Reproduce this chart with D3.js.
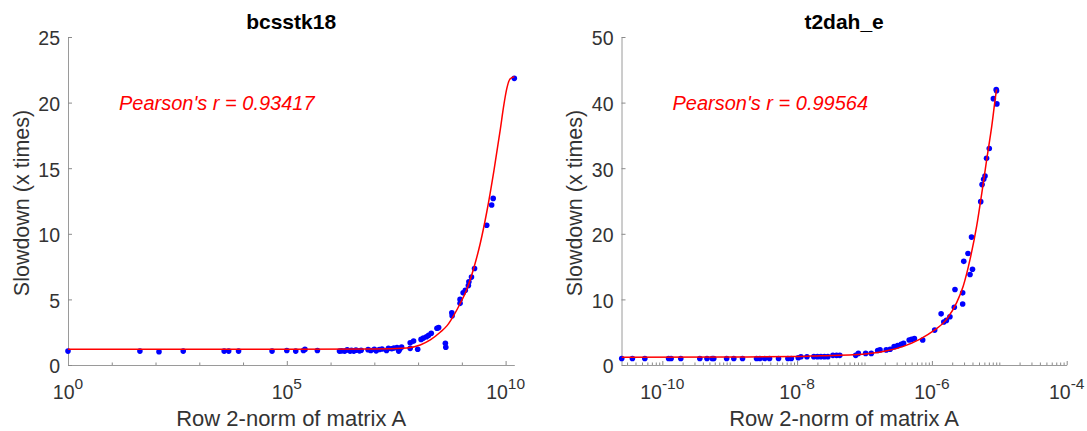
<!DOCTYPE html>
<html>
<head>
<meta charset="utf-8">
<script src="https://cdn.jsdelivr.net/npm/d3@7"></script>
<style>
  html, body { margin: 0; padding: 0; background: #fff; }
  svg { display: block; }
</style>
</head>
<body>
<div id="chart"></div>
<script>
// ---- bcsstk18: row 2-norm vs slowdown ----
const bcsstkNorm = [1.0e0, 4.4e1, 1.2e2, 4.3e2, 3.7e3, 4.7e3, 7.9e3, 4.6e4, 1.0e5, 1.6e5, 2.4e5, 2.6e5, 5.0e5,
  1.6e6, 1.8e6, 2.1e6, 2.4e6, 2.8e6, 3.0e6, 3.4e6, 3.8e6, 4.6e6, 5.0e6, 7.2e6, 8.3e6, 1.0e7, 1.1e7, 1.3e7, 1.5e7,
  1.9e7, 2.1e7, 2.5e7, 2.8e7, 3.3e7, 3.6e7, 3.8e7, 4.2e7, 6.6e7, 6.6e7, 7.9e7, 9.8e7, 1.17e8, 1.32e8, 1.55e8, 1.74e8,
  2.0e8, 2.7e8, 2.95e8, 4.2e8, 4.3e8, 5.9e8, 6.0e8, 9.1e8, 9.1e8, 1.07e9, 1.2e9, 1.41e9, 1.45e9, 1.66e9, 1.95e9,
  3.7e9, 4.8e9, 5.2e9, 1.58e10];
const bcsstkSlowdown = [1.06, 1.06, 1.01, 1.06, 1.06, 1.06, 1.06, 1.06, 1.11, 1.06, 1.11, 1.19, 1.11,
  1.06, 1.08, 1.06, 1.15, 1.06, 1.12, 1.06, 1.13, 1.08, 1.12, 1.17, 1.10, 1.20, 1.08, 1.18, 1.22,
  1.10, 1.27, 1.24, 1.30, 1.33, 1.06, 1.20, 1.36, 1.70, 1.27, 1.82, 1.20, 1.95, 2.05, 2.15, 2.26,
  2.42, 2.80, 2.85, 1.65, 1.35, 3.98, 3.75, 5.00, 4.70, 5.50, 5.70, 6.05, 6.35, 6.70, 7.35,
  10.65, 12.2, 12.7, 21.85];
// fitted trend, sampled along the norm axis
const bcsstkFitNorm = [1e0, 1e5, 1e7, 5.5e7, 1.12e8, 1.9e8, 3.2e8, 4.6e8, 6.5e8, 9.1e8, 1.32e9, 1.86e9,
  2.63e9, 3.72e9, 5.4e9, 7.6e9, 8.9e9, 1.07e10, 1.26e10, 1.58e10];
const bcsstkFitSlowdown = [1.2, 1.2, 1.22, 1.3, 1.53, 1.91, 2.5, 3.0, 3.77, 4.67, 5.82, 7.35,
  9.26, 11.68, 14.8, 18.0, 19.6, 21.1, 21.8, 21.97];

// ---- t2dah_e: row 2-norm vs slowdown ----
const t2dahNorm = [2.5e-11, 3.6e-11, 5.5e-11, 1.24e-10, 1.35e-10, 1.88e-10, 3.6e-10, 4.6e-10, 5.5e-10, 5.8e-10,
  9.0e-10, 1.15e-9, 1.55e-9, 2.5e-9, 2.8e-9, 3.3e-9, 3.9e-9, 5.3e-9, 7.3e-9, 8.2e-9, 1.04e-8, 1.14e-8, 1.4e-8,
  1.77e-8, 2.0e-8, 2.25e-8, 2.54e-8, 2.86e-8, 3.4e-8, 3.85e-8, 4.3e-8, 7.4e-8, 8.1e-8, 1.04e-7, 1.26e-7,
  1.57e-7, 1.7e-7, 2.1e-7, 2.4e-7, 2.75e-7, 3.1e-7, 3.5e-7, 3.8e-7, 4.6e-7, 5.0e-7, 5.5e-7, 7.3e-7,
  1.1e-6, 1.37e-6, 1.5e-6, 1.64e-6, 1.85e-6, 2.15e-6, 2.2e-6, 2.86e-6, 2.86e-6, 2.97e-6, 3.43e-6, 3.68e-6,
  3.87e-6, 4.0e-6, 5.3e-6, 5.55e-6, 5.86e-6, 6.14e-6, 6.47e-6, 7.1e-6, 8.17e-6, 9.0e-6, 9.1e-6, 9.2e-6];
const t2dahSlowdown = [1.0, 1.0, 1.0, 1.0, 1.0, 1.0, 1.0, 1.0, 1.0, 1.0,
  1.0, 1.0, 1.0, 1.0, 1.0, 1.0, 1.0, 1.0, 1.0, 1.0, 1.1, 1.25, 1.25,
  1.27, 1.27, 1.27, 1.27, 1.27, 1.47, 1.47, 1.47, 1.47, 1.77, 1.77, 1.77,
  2.2, 2.3, 2.3, 2.4, 2.8, 2.95, 3.14, 3.3, 3.8, 3.9, 4.05, 3.8,
  5.32, 7.8, 6.55, 6.8, 7.35, 8.8, 11.5, 11.0, 9.3, 15.8, 17.0, 13.8,
  19.5, 14.6, 24.9, 27.5, 28.3, 28.8, 31.5, 33.0, 40.6, 42.0, 41.8, 39.8];
const t2dahFitNorm = [2.5e-11, 1e-9, 1e-8, 2.2e-8, 6.8e-8, 2.14e-7, 3.77e-7, 6.67e-7, 1.05e-6, 1.66e-6,
  2.33e-6, 2.92e-6, 3.68e-6, 4.62e-6, 5.5e-6, 6.5e-6, 7.73e-6, 8.93e-6, 9.12e-6];
const t2dahFitSlowdown = [1.2, 1.22, 1.3, 1.42, 1.55, 2.17, 2.84, 3.95, 5.2, 7.0,
  9.5, 12.05, 16.1, 21.2, 26.2, 31.3, 36.4, 41.4, 42.0];

// ---- axis settings ----
const titles = ["bcsstk18", "t2dah_e"];
const pearsonLabels = ["Pearson's r = 0.93417", "Pearson's r = 0.99564"];
const xDomains = [[1e0, 1.58e10], [2.48e-11, 1e-4]];
const yDomains = [[0, 25], [0, 50]];
const yTicks = [[0, 5, 10, 15, 20, 25], [0, 10, 20, 30, 40, 50]];
const xMajorExp = [[0, 5, 10], [-10, -8, -6, -4]];
const xLabel = "Row 2-norm of matrix A";
const yLabel = "Slowdown (x times)";

const W = 1087, H = 431;
const FONT = "'Liberation Sans', Arial, Helvetica, sans-serif";
const panels = [
  { left: 68, right: 514.3, norm: bcsstkNorm, slow: bcsstkSlowdown, fitX: bcsstkFitNorm, fitY: bcsstkFitSlowdown, minorEvery: false },
  { left: 621.5, right: 1066.7, norm: t2dahNorm, slow: t2dahSlowdown, fitX: t2dahFitNorm, fitY: t2dahFitSlowdown, minorEvery: true }
];
const plotTop = 37, plotBottom = 365;

const svg = d3.select("#chart").append("svg")
  .attr("width", W).attr("height", H)
  .style("font-family", FONT);

panels.forEach((p, i) => {
  const x = d3.scaleLog().domain(xDomains[i]).range([p.left, p.right]);
  const y = d3.scaleLinear().domain(yDomains[i]).range([plotBottom, plotTop]);
  const g = svg.append("g");

  // minor ticks on the log axis
  const lo = Math.floor(Math.log10(xDomains[i][0]));
  const hi = Math.ceil(Math.log10(xDomains[i][1]));
  const minor = [];
  for (let e = lo; e <= hi; e++) {
    if (p.minorEvery) {
      for (let m = 1; m <= 9; m++) {
        const v = m * Math.pow(10, e);
        if (m === 1 && xMajorExp[i].includes(e)) continue;
        if (v >= xDomains[i][0] && v <= xDomains[i][1]) minor.push(v);
      }
    } else {
      const v = Math.pow(10, e);
      if (!xMajorExp[i].includes(e) && v >= xDomains[i][0] && v <= xDomains[i][1]) minor.push(v);
    }
  }
  const majors = xMajorExp[i].map(e => Math.pow(10, e));

  const axisStyle = sel => {
    sel.selectAll("path.domain").attr("stroke", "#9a9a9a").attr("stroke-width", 1);
    sel.selectAll(".tick line").attr("stroke", "#8a8a8a").attr("stroke-width", 1);
  };

  g.append("g").attr("transform", `translate(0,${plotBottom})`)
    .call(d3.axisBottom(x).tickValues(minor).tickSizeInner(-2.5).tickSizeOuter(0).tickFormat(""))
    .call(axisStyle);
  const xa = g.append("g").attr("transform", `translate(0,${plotBottom})`)
    .call(d3.axisBottom(x).tickValues(majors).tickSizeInner(-4).tickSizeOuter(0).tickFormat(""))
    .call(axisStyle);
  xa.selectAll("path.domain").remove();

  // power-of-ten tick labels
  xMajorExp[i].forEach(e => {
    const t = g.append("text")
      .attr("x", x(Math.pow(10, e))).attr("y", 399)
      .attr("text-anchor", "middle")
      .attr("fill", "#333").style("font-size", "19.5px");
    t.append("tspan").text("10");
    t.append("tspan").attr("dy", -10).style("font-size", "15.5px").text(String(e));
  });

  g.append("g").attr("transform", `translate(${p.left},0)`)
    .call(d3.axisLeft(y).tickValues(yTicks[i]).tickSizeInner(-4).tickSizeOuter(0).tickPadding(8))
    .call(axisStyle)
    .call(s => s.selectAll("text").attr("fill", "#333").style("font-size", "19.5px")
      .style("font-family", FONT).attr("dy", "0.4em"));

  // data points
  g.append("g").selectAll("circle")
    .data(p.norm.map((v, k) => [v, p.slow[k]]))
    .join("circle")
    .attr("cx", d => x(d[0])).attr("cy", d => y(d[1]))
    .attr("r", 2.8).attr("fill", "#0000ff");

  // trend line
  const line = d3.line().x(d => x(d[0])).y(d => y(d[1])).curve(d3.curveMonotoneX);
  g.append("path")
    .datum(p.fitX.map((v, k) => [v, p.fitY[k]]))
    .attr("d", line).attr("fill", "none")
    .attr("stroke", "#ff0000").attr("stroke-width", 1.5);

  const cx = (p.left + p.right) / 2;
  g.append("text").attr("x", cx).attr("y", 29).attr("text-anchor", "middle")
    .style("font-size", "21px").style("font-weight", "bold").attr("fill", "#000").text(titles[i]);

  g.append("text").attr("x", p.left + 51).attr("y", 110)
    .style("font-size", "20px").style("font-style", "italic").attr("fill", "#ff0000").text(pearsonLabels[i]);

  g.append("text").attr("x", cx).attr("y", 426).attr("text-anchor", "middle")
    .style("font-size", "22px").attr("fill", "#333").text(xLabel);

  g.append("text")
    .attr("transform", `translate(${p.left - 47},${(plotTop + plotBottom) / 2 + 2}) rotate(-90)`)
    .attr("text-anchor", "middle").attr("dy", "0.35em")
    .style("font-size", "21.5px").attr("fill", "#333").text(yLabel);
});
</script>
</body>
</html>
